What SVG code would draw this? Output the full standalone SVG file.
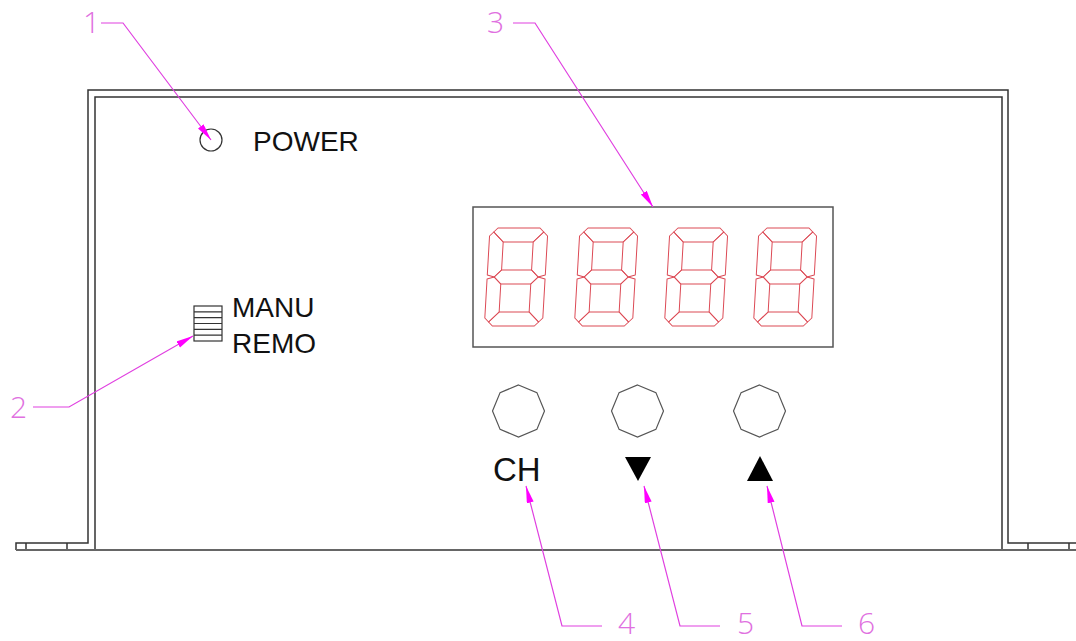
<svg xmlns="http://www.w3.org/2000/svg" width="1076" height="641" viewBox="0 0 1076 641">
<style>
.frame{fill:none;stroke:#333;stroke-width:1.5}
.base{fill:none;stroke:#666;stroke-width:2}
.seg{fill:none;stroke:#dc4a55;stroke-width:1;stroke-linejoin:round}
.btn{fill:none;stroke:#555;stroke-width:1.2}
.txt{font-family:"Liberation Sans",Arial,sans-serif;fill:#111}
.lead{fill:none;stroke:#e040e0;stroke-width:1.2}
.num{font-family:"Open Sans","Liberation Sans",sans-serif;font-weight:300;fill:#e070e0;font-size:30px}
</style>
<defs>
<marker id="ah" markerUnits="userSpaceOnUse" markerWidth="18" markerHeight="8" refX="17" refY="3.5" orient="auto">
<path d="M0,0 L17,3.5 L0,7 z" fill="#ff00ff"/>
</marker>
<g id="digit">
<polygon class="seg" points="8,0 50,0 54,4 44,14 14,14 4,4"/>
<polygon class="seg" points="0,8 4,4 14,14 14,42 7,49 0,47"/>
<polygon class="seg" points="58,8 54,4 44,14 44,42 51,49 58,47"/>
<polygon class="seg" points="7,49 14,42 44,42 51,49 44,56 14,56"/>
<polygon class="seg" points="0,51 7,49 14,56 14,84 4,94 0,90"/>
<polygon class="seg" points="58,51 51,49 44,56 44,84 54,94 58,90"/>
<polygon class="seg" points="4,94 14,84 44,84 54,94 50,98 8,98"/>
</g>
<polygon id="oct" class="btn" points="0,-26 18.4,-18.4 26,0 18.4,18.4 0,26 -18.4,18.4 -26,0 -18.4,-18.4"/>
</defs>

<g id="housing">
<polyline class="frame" points="16,550 16,543 88,543 88,90 1008,90 1008,543 1076,543"/>
<polyline class="frame" points="95,550 95,97 1002,97 1002,550"/>
<line class="frame" x1="26" y1="543" x2="26" y2="550"/>
<line class="frame" x1="67" y1="543" x2="67" y2="550"/>
<line class="frame" x1="1028" y1="543" x2="1028" y2="550"/>
<line class="frame" x1="1069" y1="543" x2="1069" y2="550"/>
<line class="base" x1="16" y1="550" x2="1076" y2="550"/>
</g>

<g id="power">
<circle cx="211" cy="140" r="11" fill="none" stroke="#333" stroke-width="1.2"/>
<text class="txt" x="253" y="151" font-size="28">POWER</text>
</g>

<g id="switch">
<rect x="194" y="306" width="28" height="35" fill="none" stroke="#333" stroke-width="1.2"/>
<path d="M194,311.8 H222 M194,317.7 H222 M194,323.5 H222 M194,329.3 H222 M194,335.2 H222" stroke="#333" stroke-width="1.2"/>
<text class="txt" x="232" y="317" font-size="28">MANU</text>
<text class="txt" x="232" y="353" font-size="28">REMO</text>
</g>

<g id="display">
<rect x="473" y="207" width="360" height="140" fill="none" stroke="#555" stroke-width="1.5"/>
<use href="#digit" transform="translate(490,228) skewX(-3.3)"/>
<use href="#digit" transform="translate(580,228) skewX(-3.3)"/>
<use href="#digit" transform="translate(670,228) skewX(-3.3)"/>
<use href="#digit" transform="translate(759,228) skewX(-3.3)"/>
</g>

<g id="btn-ch">
<use href="#oct" transform="translate(518.5,411)"/>
<text class="txt" x="493" y="481" font-size="33">CH</text>
</g>
<g id="btn-down">
<use href="#oct" transform="translate(637.5,411)"/>
<polygon points="625,457 651,457 638,481" fill="#000"/>
</g>
<g id="btn-up">
<use href="#oct" transform="translate(759.5,411)"/>
<polygon points="747,481 773,481 760,456" fill="#000"/>
</g>

<g id="connectors">
<polyline class="lead" points="101,23 123,23 211,140" marker-end="url(#ah)"/>
<polyline class="lead" points="33,407 69,407 193,336" marker-end="url(#ah)"/>
<polyline class="lead" points="513,23 535,23 653,207" marker-end="url(#ah)"/>
<polyline class="lead" points="602,626 562,626 526,486" marker-end="url(#ah)"/>
<polyline class="lead" points="720,626 680,626 644,486" marker-end="url(#ah)"/>
<polyline class="lead" points="842,626 802,626 767,486" marker-end="url(#ah)"/>
</g>

<g id="labels">
<text class="num" x="83" y="33">1</text>
<text class="num" x="10" y="418">2</text>
<text class="num" x="487" y="33">3</text>
<text class="num" x="618" y="634">4</text>
<text class="num" x="737" y="634">5</text>
<text class="num" x="858" y="634">6</text>
</g>
</svg>
